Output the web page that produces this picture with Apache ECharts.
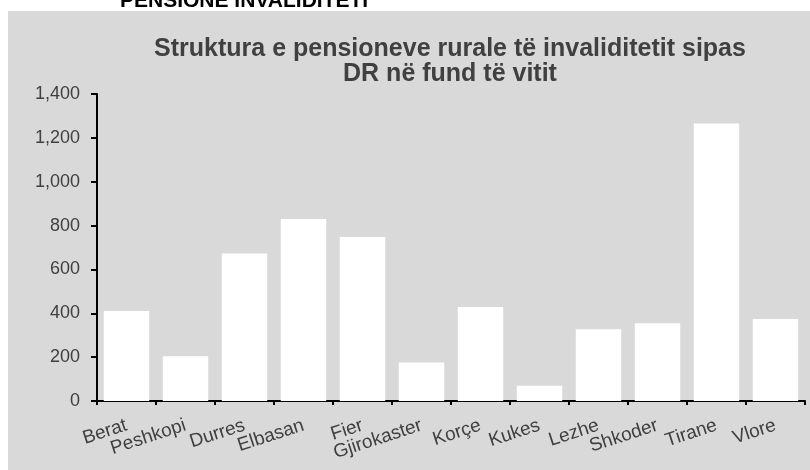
<!DOCTYPE html>
<html>
<head>
<meta charset="utf-8">
<script src="https://cdn.jsdelivr.net/npm/echarts@6/dist/echarts.min.js"></script>
<style>
    html, body { margin: 0; padding: 0; background: #ffffff; }
    #chart { width: 810px; height: 470px; }
</style>
</head>
<body>
<div id="chart"></div>
<script>
    // rrethet (DR) dhe numri i pensioneve rurale te invaliditetit
    var districts = ['Berat', 'Peshkopi', 'Durres', 'Elbasan', 'Fier', 'Gjirokaster', 'Korçe', 'Kukes', 'Lezhe', 'Shkoder', 'Tirane', 'Vlore'];
    var pensions = [410, 204, 673, 830, 748, 176, 429, 70, 327, 354, 1266, 374];
    var yTicks = [0, 200, 400, 600, 800, 1000, 1200, 1400];

    var chart = echarts.init(document.getElementById('chart'));
    var font = 'Liberation Sans, Arial, sans-serif';

    var options = {
        animation: false,
        backgroundColor: '#ffffff',
        graphic: [
            {
                type: 'rect',
                z: -10,
                shape: { x: 8, y: 11, width: 802, height: 459 },
                style: { fill: '#d9d9d9' }
            },
            {
                type: 'text',
                x: 120,
                y: -9,
                style: {
                    text: 'PENSIONE INVALIDITETI',
                    font: 'bold 21px ' + font,
                    fill: '#000000'
                }
            }
        ],
        title: {
            text: 'Struktura e pensioneve rurale të invaliditetit sipas\nDR në fund të vitit',
            left: 445,
            top: 32,
            textAlign: 'center',
            textStyle: {
                fontFamily: font,
                fontSize: 25,
                fontWeight: 'bold',
                lineHeight: 25,
                color: '#404040'
            }
        },
        grid: {
            left: 97,
            right: 5,
            top: 94,
            bottom: 69
        },
        xAxis: {
            type: 'category',
            data: districts,
            axisLine: {
                lineStyle: { color: '#000000', width: 2 }
            },
            axisTick: {
                show: true,
                length: 4,
                lineStyle: { color: '#000000', width: 2 }
            },
            axisLabel: {
                rotate: 18,
                margin: 24,
                interval: 0,
                fontFamily: font,
                fontSize: 19,
                color: '#404040'
            }
        },
        yAxis: {
            type: 'value',
            min: yTicks[0],
            max: yTicks[yTicks.length - 1],
            interval: 200,
            splitLine: { show: false },
            axisLine: {
                show: true,
                lineStyle: { color: '#000000', width: 2 }
            },
            axisTick: {
                show: true,
                length: 6,
                lineStyle: { color: '#000000', width: 2 }
            },
            axisLabel: {
                margin: 17,
                fontFamily: font,
                fontSize: 18,
                color: '#404040',
                formatter: function (v) {
                    return v.toLocaleString('en-US');
                }
            }
        },
        series: [
            {
                type: 'bar',
                data: pensions,
                barCategoryGap: '23%',
                itemStyle: {
                    color: '#ffffff'
                }
            }
        ]
    };

    chart.setOption(options);
</script>
</body>
</html>
